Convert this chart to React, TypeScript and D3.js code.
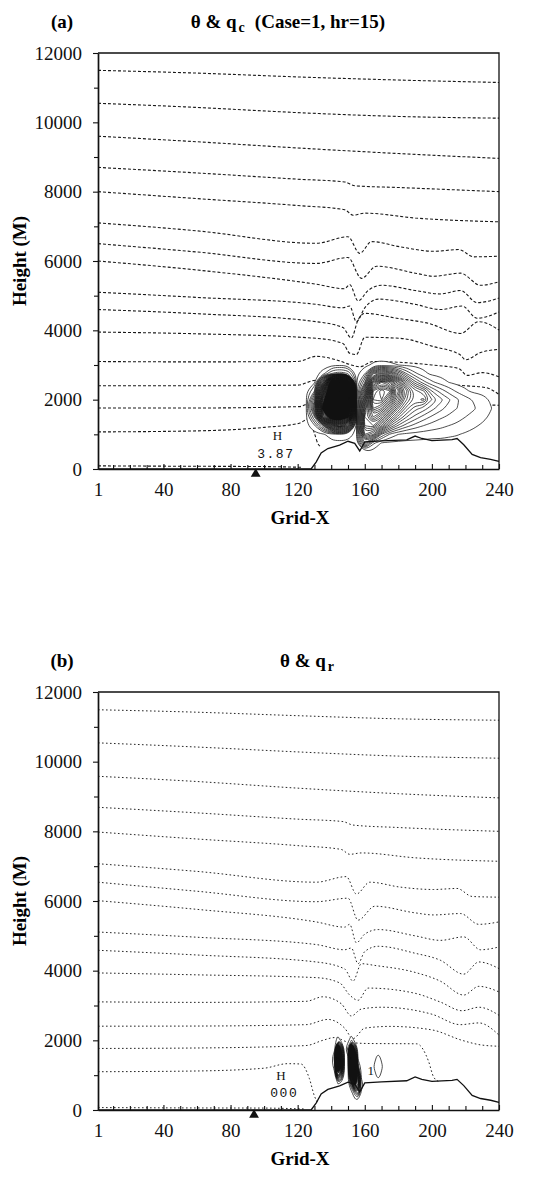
import React, { useRef, useEffect } from 'react';
import * as d3 from 'd3';

type Pt = [number, number];

const W = 533;
const H = 1178;

const xTicks = [1, 40, 80, 120, 160, 200, 240];
const xMinor = [10, 20, 30, 50, 60, 70, 90, 100, 110, 130, 140, 150, 170, 180, 190, 210, 220, 230];
const yTicks = [0, 2000, 4000, 6000, 8000, 10000, 12000];
const yMinor = [1000, 3000, 5000, 7000, 9000, 11000];

// potential temperature lines, panel (a): [grid-x, height]
const thetaA: Pt[][] = [
  [[1, 11500], [60, 11420], [120, 11310], [180, 11220], [240, 11150]],
  [[1, 10550], [60, 10430], [120, 10280], [180, 10170], [240, 10120]],
  [[1, 9600], [60, 9440], [120, 9260], [180, 9100], [240, 8960]],
  [[1, 8700], [60, 8540], [120, 8360], [148, 8280], [154, 8170], [180, 8120], [240, 8000]],
  [[1, 8000], [60, 7800], [120, 7600], [148, 7480], [153, 7320], [160, 7380], [190, 7240], [240, 7130]],
  [[1, 7100], [60, 6870], [131, 6510], [150, 6700], [157, 6220], [164, 6560], [181, 6410], [201, 6280], [216, 6330], [225, 6120], [240, 6140]],
  [[1, 6500], [60, 6260], [131, 5930], [150, 6100], [158, 5500], [167, 5850], [191, 5640], [201, 5560], [217, 5650], [229, 5300], [240, 5400]],
  [[1, 6000], [60, 5740], [131, 5330], [148, 5200], [151, 5320], [156, 4850], [162, 5150], [170, 5300], [190, 5150], [205, 5050], [217, 5150], [227, 4800], [240, 4930]],
  [[1, 5100], [60, 4950], [131, 4750], [147, 4650], [151, 4700], [155, 4250], [160, 4650], [168, 4900], [190, 4750], [205, 4600], [218, 4700], [227, 4350], [240, 4530]],
  [[1, 4600], [60, 4480], [131, 4250], [147, 4080], [152, 3780], [156, 4300], [160, 4490], [179, 4350], [198, 4200], [217, 3910], [228, 4250], [240, 4010]],
  [[1, 3950], [60, 3900], [131, 3770], [147, 3620], [151, 3340], [155, 3300], [160, 3800], [181, 3770], [201, 3530], [217, 3290], [220, 3150], [229, 3360], [240, 3450]],
  [[1, 3100], [60, 3090], [120, 3100], [131, 3250], [143, 3150], [152, 3000], [157, 2950], [165, 3100], [200, 3000], [216, 2900], [221, 2700], [230, 2780], [240, 2660]],
  [[1, 2400], [60, 2400], [120, 2420], [131, 2560], [145, 2500], [160, 2450], [200, 2450], [220, 2400], [232, 2350], [240, 2150]],
  [[1, 1760], [60, 1760], [121, 1800], [128, 1900], [140, 1900], [180, 1900], [230, 1850], [240, 1840]],
  [[1, 1070], [60, 1100], [100, 1200], [121, 1320], [127, 1460], [130, 1030], [132, 740], [134, 640]],
];
const surfaceA: Pt[] = [[1, 90], [50, 80], [100, 70], [122, 50]];

// potential temperature lines, panel (b)
const thetaB: Pt[][] = [
  [[1, 11490], [60, 11420], [120, 11320], [180, 11230], [240, 11190]],
  [[1, 10540], [60, 10420], [120, 10280], [180, 10160], [240, 10100]],
  [[1, 9580], [60, 9430], [120, 9240], [180, 9080], [240, 8960]],
  [[1, 8690], [60, 8530], [120, 8350], [147, 8280], [153, 8180], [180, 8110], [240, 8000]],
  [[1, 7980], [60, 7780], [120, 7590], [146, 7480], [151, 7340], [158, 7380], [190, 7240], [240, 7140]],
  [[1, 7070], [60, 6850], [131, 6540], [149, 6700], [155, 6200], [163, 6540], [181, 6400], [201, 6330], [215, 6360], [224, 6130], [240, 6110]],
  [[1, 6540], [60, 6280], [131, 5980], [150, 6080], [156, 5450], [166, 5850], [190, 5660], [201, 5600], [217, 5640], [228, 5330], [240, 5400]],
  [[1, 6010], [60, 5760], [131, 5400], [148, 5250], [151, 5330], [155, 4800], [160, 5050], [168, 5180], [190, 5000], [205, 4870], [219, 4970], [229, 4600], [240, 4680]],
  [[1, 5110], [60, 4960], [131, 4750], [148, 4600], [152, 4650], [156, 4200], [160, 4550], [168, 4700], [190, 4500], [205, 4300], [219, 3900], [228, 4250], [240, 4060]],
  [[1, 4585], [60, 4450], [131, 4250], [148, 4050], [153, 3700], [158, 4200], [166, 4150], [190, 3950], [205, 3700], [219, 3300], [228, 3550], [240, 3390]],
  [[1, 3935], [60, 3880], [131, 3800], [145, 3650], [151, 3300], [156, 3150], [162, 3500], [190, 3350], [205, 3100], [218, 2850], [228, 2950], [240, 2720]],
  [[1, 3104], [60, 3090], [125, 3120], [135, 3250], [146, 3050], [152, 2700], [158, 2900], [170, 2950], [200, 2750], [217, 2450], [228, 2500], [240, 2150]],
  [[1, 2406], [60, 2410], [125, 2450], [138, 2600], [148, 2350], [153, 2050], [160, 2350], [175, 2400], [200, 2300], [218, 2000], [229, 1870], [240, 1830]],
  [[1, 1767], [60, 1780], [125, 1850], [135, 2000], [142, 2080], [150, 1950], [161, 1910], [191, 1900], [198, 1400], [201, 950], [204, 820]],
  [[1, 1099], [60, 1120], [100, 1200], [114, 1330], [122, 1320], [127, 900], [130, 400], [132, 200]],
];
const surfaceB: Pt[] = [[1, 70], [50, 60], [100, 55], [124, 30]];

const terrain: Pt[] = [
  [1, 0], [128, 0], [131, 200], [134, 460], [138, 590], [145, 690], [150, 800], [154, 740], [157, 520],
  [160, 780], [170, 810], [185, 840], [190, 950], [194, 880], [200, 820], [212, 850], [215, 880],
  [219, 700], [224, 420], [229, 330], [235, 280], [240, 220],
];

// cloud water q_c (panel a), rows from the ground up
const qcX = [125, 130, 135, 140, 145, 150, 155, 160, 165, 170, 175, 180, 185, 190, 195, 200, 205, 210, 215, 220, 225, 230, 235, 240];
const qcZ = [0, 250, 500, 750, 1000, 1250, 1500, 1750, 2000, 2250, 2500, 2750, 3000, 3250, 3500];
const qc = [
  [0, 0, 0, 0, 0, 0, 0, 0, 0, 0, 0, 0, 0, 0, 0, 0, 0, 0, 0, 0, 0, 0, 0, 0],
  [0, 0, 0, 0, 0, 0, 0, 0, 0, 0, 0, 0, 0, 0, 0, 0, 0, 0, 0, 0, 0, 0, 0, 0],
  [0, 0, 0, 0, 0, 0, 0, 0.05, 0, 0, 0, 0, 0, 0, 0, 0, 0, 0, 0, 0, 0, 0, 0, 0],
  [0, 0, 0, 0, 0, 0, 0, 3, 0.6, 0.05, 0, 0, 0, 0, 0, 0, 0, 0, 0, 0, 0, 0, 0, 0],
  [0, 0, 0, 0.3, 0.4, 0.3, 0, 6, 5, 2, 0.9, 0.5, 0.35, 0.3, 0.25, 0.2, 0.2, 0.15, 0.12, 0.05, 0, 0, 0, 0],
  [0, 0.4, 2.5, 7, 9, 7, 0, 7.5, 8, 6, 3.6, 2.4, 1.7, 1.3, 1, 0.8, 0.65, 0.5, 0.4, 0.3, 0.15, 0.05, 0, 0],
  [0, 2, 12, 18, 20, 16, 0, 8, 10, 8.5, 6, 4.2, 3, 2.3, 1.8, 1.4, 1.1, 0.9, 0.7, 0.5, 0.35, 0.2, 0.05, 0],
  [0, 4, 16, 20, 24, 20, 0, 7, 12, 11, 8.5, 6, 4.2, 3.2, 2.8, 2.2, 1.7, 1.3, 1, 0.75, 0.55, 0.35, 0.12, 0],
  [0, 3, 14, 22, 28, 24, 0, 6, 13, 13.5, 11, 8, 5.5, 4.3, 4.7, 3, 2.2, 1.6, 1.1, 0.7, 0.45, 0.25, 0.06, 0],
  [0, 1, 10, 20, 25, 22, 0, 4.5, 12.5, 14, 13, 9, 6, 4.2, 3.6, 2, 1.3, 0.8, 0.4, 0.15, 0, 0, 0, 0],
  [0, 0, 6, 18, 22, 18, 0, 2, 9, 11, 10, 7, 4, 2.2, 1.2, 0.6, 0.3, 0.1, 0, 0, 0, 0, 0, 0],
  [0, 0, 0.2, 1.5, 2, 1.5, 0, 0.5, 4.5, 5, 4.5, 3, 1.5, 0.6, 0.2, 0, 0, 0, 0, 0, 0, 0, 0, 0],
  [0, 0, 0, 0, 0, 0, 0, 0, 0.15, 0.2, 0.15, 0.1, 0, 0, 0, 0, 0, 0, 0, 0, 0, 0, 0, 0],
  [0, 0, 0, 0, 0, 0, 0, 0, 0, 0, 0, 0, 0, 0, 0, 0, 0, 0, 0, 0, 0, 0, 0, 0],
  [0, 0, 0, 0, 0, 0, 0, 0, 0, 0, 0, 0, 0, 0, 0, 0, 0, 0, 0, 0, 0, 0, 0, 0],
];
const qcLevels = [0.1, ...d3.range(0.5, 30, 0.5)];

// rain water q_r (panel b)
const qrX = [130, 132, 134, 136, 138, 140, 142, 144, 146, 148, 150, 152, 154, 156, 158, 160, 162, 164, 166, 168, 170, 172, 174, 176];
const qrZ = [0, 250, 500, 750, 1000, 1250, 1500, 1750, 2000, 2250];
const qr = [
  [0, 0, 0, 0, 0, 0, 0, 0, 0, 0, 0, 0, 0, 0, 0, 0, 0, 0, 0, 0, 0, 0, 0, 0],
  [0, 0, 0, 0, 0, 0, 0, 0, 0, 0, 0, 0, 0, 0, 0, 0, 0, 0, 0, 0, 0, 0, 0, 0],
  [0, 0, 0, 0, 0, 0, 0, 0, 0, 0, 0, 0, 2, 4, 0.3, 0, 0, 0, 0, 0, 0, 0, 0, 0],
  [0, 0, 0, 0, 0, 0, 0, 0.5, 0, 0, 0, 3, 12, 10, 1, 0, 0, 0, 0, 0.1, 0, 0, 0, 0],
  [0, 0, 0, 0, 0, 0, 0, 8, 4, 0, 0, 12, 20, 8, 0, 0, 0, 0, 0.35, 0.8, 0.35, 0, 0, 0],
  [0, 0, 0, 0, 0, 0, 1, 22, 12, 0, 0, 22, 22, 2, 0, 0, 0, 0.2, 0.65, 1.1, 0.65, 0.2, 0, 0],
  [0, 0, 0, 0, 0, 0, 2, 25, 10, 0, 0, 25, 15, 0, 0, 0, 0, 0, 0.35, 0.8, 0.35, 0, 0, 0],
  [0, 0, 0, 0, 0, 0, 0, 20, 6, 0, 2, 20, 5, 0, 0, 0, 0, 0, 0, 0.1, 0, 0, 0, 0],
  [0, 0, 0, 0, 0, 0, 0, 1.2, 0, 0, 0, 1.5, 0, 0, 0, 0, 0, 0, 0, 0, 0, 0, 0, 0],
  [0, 0, 0, 0, 0, 0, 0, 0, 0, 0, 0, 0, 0, 0, 0, 0, 0, 0, 0, 0, 0, 0, 0, 0],
];
const qrLevels = [0.5, ...d3.range(1.5, 30, 0.7)];

const notesA = [
  { g: 108, h: 836, text: 'H', mono: false },
  { g: 107, h: 317, text: '3.87', mono: true },
];
const notesB = [
  { g: 110, h: 860, text: 'H', mono: false },
  { g: 112, h: 372, text: '000', mono: true },
  { g: 163.5, h: 1003, text: '1', mono: false },
];

const serif = "'Liberation Serif', 'Times New Roman', serif";

function fieldRings(field, xs, zs, levels, x, y) {
  const n = xs.length;
  const m = zs.length;
  const dx = xs[1] - xs[0];
  const dz = zs[1] - zs[0];
  const values = field.flat();
  const curve = d3.line().curve(d3.curveBasisClosed);
  const toPx = (r) => r.slice(0, -1).map(([px, py]) => [x(xs[0] + (px - 0.5) * dx), y(zs[0] + (py - 0.5) * dz)]);
  const contours = d3.contours().size([n, m]).thresholds(levels)(values);
  return contours.map((c) => {
    let all = '';
    let outer = '';
    c.coordinates.forEach((poly) => {
      poly.forEach((ring, k) => {
        const d = curve(toPx(ring)) || '';
        all += d;
        if (k === 0) outer += d;
      });
    });
    return { value: c.value, all, outer };
  });
}

function drawPanel(svg, p) {
  const x = d3.scaleLinear().domain([1, 240]).range([98, 499]);
  const y = d3.scaleLinear().domain([0, 12000]).range([p.bottom, p.top]);
  const g = svg.append('g');

  // theta lines
  const line = d3.line<Pt>().x((d) => x(d[0])).y((d) => y(d[1])).curve(d3.curveMonotoneX);
  g.append('g')
    .selectAll('path')
    .data([...p.theta, p.surface])
    .join('path')
    .attr('d', line)
    .attr('fill', 'none')
    .attr('stroke', '#1a1a1a')
    .attr('stroke-width', p.dotW)
    .attr('stroke-dasharray', p.dash);

  // moisture field: white under the cloud, solid core, then every contour
  const rings = fieldRings(p.field, p.fx, p.fz, p.levels, x, y);
  g.append('path').attr('d', rings[0].outer).attr('fill', '#fff');
  g.append('g')
    .selectAll('path')
    .data(rings.filter((r) => r.value >= p.solidFrom).slice(0, 1))
    .join('path')
    .attr('d', (d) => d.outer)
    .attr('fill', '#111');
  g.append('g')
    .selectAll('path')
    .data(rings)
    .join('path')
    .attr('d', (d) => d.all)
    .attr('fill', 'none')
    .attr('stroke', '#111')
    .attr('stroke-width', 0.75);

  // terrain
  g.append('path')
    .datum(terrain)
    .attr('d', d3.line<Pt>().x((d) => x(d[0])).y((d) => y(d[1])))
    .attr('fill', 'none')
    .attr('stroke', '#111')
    .attr('stroke-width', 1.3);

  // frame
  g.append('path')
    .attr('d', `M${x(1)},${y(12000)}H${x(240)}V${y(0)}`)
    .attr('fill', 'none')
    .attr('stroke', '#111')
    .attr('stroke-width', 1.3);

  // axes
  const ya = g.append('g').attr('transform', `translate(${x(1)},0)`)
    .call(d3.axisLeft(y).tickValues(yTicks).tickSizeInner(5).tickSizeOuter(0).tickPadding(11).tickFormat(d3.format('d')));
  g.append('g').attr('transform', `translate(${x(1)},0)`)
    .call(d3.axisLeft(y).tickValues(yMinor).tickSizeInner(4).tickSizeOuter(0).tickFormat(() => ''))
    .call((s) => s.select('.domain').remove());
  const xa = g.append('g').attr('transform', `translate(0,${y(0)})`)
    .call(d3.axisBottom(x).tickValues(xTicks).tickSizeInner(-5).tickSizeOuter(0).tickPadding(14).tickFormat(d3.format('d')));
  g.append('g').attr('transform', `translate(0,${y(0)})`)
    .call(d3.axisBottom(x).tickValues(xMinor).tickSizeInner(-4).tickSizeOuter(0).tickFormat(() => ''))
    .call((s) => s.select('.domain').remove());
  [ya, xa].forEach((a) => {
    a.select('.domain').attr('stroke', '#111').attr('stroke-width', 1.7);
    a.selectAll('text').attr('font-family', serif).attr('font-size', 19).attr('fill', '#111');
  });
  g.selectAll('.tick line').attr('stroke', '#111').attr('stroke-width', 1.1);

  // marker on the ground
  g.append('path')
    .attr('d', d3.symbol(d3.symbolTriangle, 42)())
    .attr('transform', `translate(${x(p.marker)},${y(0) + 5})`)
    .attr('fill', '#111');

  // contour annotations
  g.append('g')
    .selectAll('text')
    .data(p.notes)
    .join('text')
    .attr('x', (d) => x(d.g))
    .attr('y', (d) => y(d.h))
    .attr('text-anchor', 'middle')
    .attr('font-family', (d) => (d.mono ? "'Liberation Mono', monospace" : serif))
    .attr('font-size', 13)
    .attr('letter-spacing', (d) => (d.mono ? 1.5 : 0))
    .attr('fill', '#111')
    .text((d) => d.text);

  // titles
  g.append('text')
    .attr('x', 62).attr('y', p.top - 25)
    .attr('text-anchor', 'middle')
    .attr('font-family', serif).attr('font-weight', 'bold').attr('font-size', 19)
    .text(p.tag);
  const t = g.append('text')
    .attr('x', p.titleX).attr('y', p.top - 25)
    .attr('text-anchor', 'middle')
    .attr('font-family', serif).attr('font-weight', 'bold').attr('font-size', 19);
  t.append('tspan').text('θ & q');
  t.append('tspan').attr('dx', 2).attr('dy', 4).attr('font-size', 14).text(p.sub);
  if (p.rest) t.append('tspan').attr('dx', 10).attr('dy', -4).text(p.rest);

  g.append('text')
    .attr('transform', `translate(26,${(p.top + p.bottom) / 2}) rotate(-90)`)
    .attr('text-anchor', 'middle')
    .attr('font-family', serif).attr('font-weight', 'bold').attr('font-size', 19)
    .text('Height (M)');
  g.append('text')
    .attr('x', 300).attr('y', p.bottom + 55)
    .attr('text-anchor', 'middle')
    .attr('font-family', serif).attr('font-weight', 'bold').attr('font-size', 19)
    .text('Grid-X');
}

export default function App() {
  const ref = useRef<SVGSVGElement>(null);

  useEffect(() => {
    const svg = d3.select(ref.current);
    svg.selectAll('*').remove();
    svg.append('rect').attr('width', W).attr('height', H).attr('fill', '#fff');
    drawPanel(svg, {
      top: 53, bottom: 469, theta: thetaA, surface: surfaceA, dash: '3 2', dotW: 1.1,
      field: qc, fx: qcX, fz: qcZ, levels: qcLevels, solidFrom: 15, marker: 95, notes: notesA,
      tag: '(a)', titleX: 288, sub: 'c', rest: '(Case=1, hr=15)',
    });
    drawPanel(svg, {
      top: 692, bottom: 1110, theta: thetaB, surface: surfaceB, dash: '1.6 2.4', dotW: 0.95,
      field: qr, fx: qrX, fz: qrZ, levels: qrLevels, solidFrom: 10, marker: 94, notes: notesB,
      tag: '(b)', titleX: 307, sub: 'r', rest: '',
    });
  }, []);

  return (
    <svg ref={ref} width={W} height={H} style={{ position: 'absolute', left: 0, top: 0 }} />
  );
}
